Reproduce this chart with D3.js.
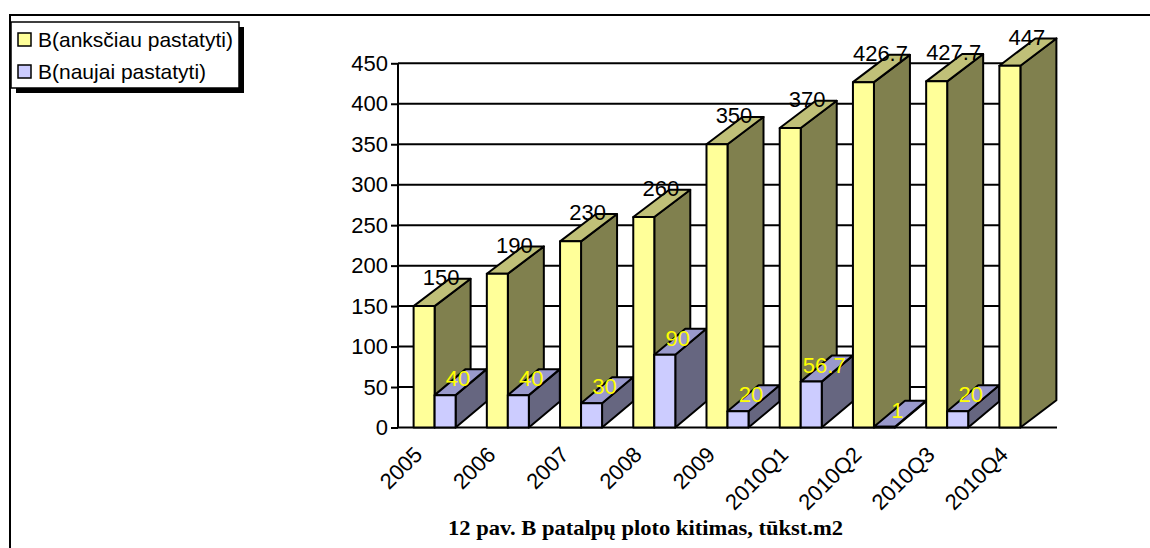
<!DOCTYPE html>
<html>
<head>
<meta charset="utf-8">
<script src="https://cdn.jsdelivr.net/npm/d3@7/dist/d3.min.js"></script>
<style>
  html, body { margin: 0; padding: 0; background: #fff; }
  svg { display: block; }
  .sans { font-family: "Liberation Sans", Arial, sans-serif; }
  .serif { font-family: "Liberation Serif", "Times New Roman", serif; }
</style>
</head>
<body>
<svg id="chart" width="1150" height="548"></svg>
<script>
// Categories (years / quarters)
const categories = ["2005", "2006", "2007", "2008", "2009", "2010Q1", "2010Q2", "2010Q3", "2010Q4"];
// Series names
const seriesNames = ["B(anksčiau pastatyti)", "B(naujai pastatyti)"];
// Series values, thousand m2
const existingValues = [150, 190, 230, 260, 350, 370, 426.7, 427.7, 447];
const newValues = [40, 40, 30, 90, 20, 56.7, 1, 20, null];
// Value axis ticks
const yTicks = [0, 50, 100, 150, 200, 250, 300, 350, 400, 450];
const captionText = "12 pav. B patalpų ploto kitimas, tūkst.m2";

const svg = d3.select("#chart");

// Face colours and extrusion offsets of each series
const styles = [
  { front: "#FFFF99", top: "#C0C078", side: "#80804E", dx: 36, dy: -27.3, label: "#000000" },
  { front: "#CCCCFF", top: "#9999CC", side: "#666680", dx: 31, dy: -26, label: "#FFFF00" }
];

const plot = { left: 398, right: 1057, top: 63.3, bottom: 427.5 };

const x = d3.scaleBand().domain(categories).range([plot.left, plot.right]).padding(0);
const sub = d3.scaleBand().domain([0, 1]).range([0, x.bandwidth()])
  .paddingInner(0).paddingOuter(0.743);
const y = d3.scaleLinear().domain([0, 450]).range([plot.bottom, plot.top]);

// Outer frame (top and left edges visible)
svg.append("path")
  .attr("d", `M10,549 L10,15 L1151,15`)
  .attr("fill", "none").attr("stroke", "#000").attr("stroke-width", 2);

// Gridlines
svg.append("g").selectAll("line").data(yTicks.filter(d => d > 0)).join("line")
  .attr("x1", plot.left).attr("x2", plot.right)
  .attr("y1", d => y(d)).attr("y2", d => y(d))
  .attr("stroke", "#000").attr("stroke-width", 2);

// Value axis
const yAxis = svg.append("g")
  .attr("transform", `translate(${plot.left},0)`)
  .call(d3.axisLeft(y).tickValues(yTicks).tickSize(7).tickPadding(3).tickFormat(d3.format("d")));
yAxis.select(".domain").attr("stroke-width", 2).attr("d", `M0,${plot.top}V${plot.bottom}`);
yAxis.selectAll(".tick line").attr("stroke-width", 2);
yAxis.selectAll(".tick text")
  .attr("class", "sans").attr("font-size", 22).attr("fill", "#000")
  .style("font-family", "'Liberation Sans', Arial, sans-serif");

// Baseline
svg.append("line")
  .attr("x1", plot.left).attr("x2", plot.right)
  .attr("y1", y(0)).attr("y2", y(0))
  .attr("stroke", "#000").attr("stroke-width", 2);

// 3D columns, drawn category by category so later columns overlap earlier ones
const bars = svg.append("g").attr("stroke", "#000").attr("stroke-width", 2).attr("stroke-linejoin", "round");
const seriesValues = [existingValues, newValues];

function pts(a) { return a.map(p => p.join(",")).join(" "); }

categories.forEach((cat, i) => {
  seriesValues.forEach((vals, s) => {
    const v = vals[i];
    if (v == null) return;
    const st = styles[s];
    const x0 = x(cat) + sub(s);
    const w = sub.bandwidth();
    const yt = y(v), yb = y(0);
    const g = bars.append("g");
    g.append("polygon").attr("fill", st.side).attr("points", pts([
      [x0 + w, yt], [x0 + w + st.dx, yt + st.dy], [x0 + w + st.dx, yb + st.dy], [x0 + w, yb]
    ]));
    g.append("polygon").attr("fill", st.top).attr("points", pts([
      [x0, yt], [x0 + w, yt], [x0 + w + st.dx, yt + st.dy], [x0 + st.dx, yt + st.dy]
    ]));
    g.append("rect").attr("fill", st.front)
      .attr("x", x0).attr("y", yt).attr("width", w).attr("height", yb - yt);
  });
});

// Value labels
const labels = svg.append("g").attr("class", "sans").attr("font-size", 22).attr("text-anchor", "middle");
categories.forEach((cat, i) => {
  seriesValues.forEach((vals, s) => {
    const v = vals[i];
    if (v == null) return;
    const st = styles[s];
    const cx = x(cat) + sub(s) + sub.bandwidth() / 2 + (s === 0 ? 17 : 13);
    const by = y(v) - (s === 0 ? 21 : 9);
    labels.append("text").attr("x", cx).attr("y", by).attr("fill", st.label).text(String(v));
  });
});

// Category labels
svg.append("g").attr("class", "sans").selectAll("text").data(categories).join("text")
  .attr("transform", d => `translate(${x(d) + x.bandwidth() / 2 - 11},456) rotate(-45)`)
  .attr("text-anchor", "end").attr("font-size", 22).attr("fill", "#000")
  .text(d => d);

// Legend
const legend = svg.append("g").attr("class", "sans");
legend.append("rect").attr("x", 16).attr("y", 27).attr("width", 228).attr("height", 66).attr("fill", "#000");
legend.append("rect").attr("x", 11).attr("y", 22).attr("width", 228).attr("height", 66)
  .attr("fill", "#fff").attr("stroke", "#000").attr("stroke-width", 1.5);
seriesNames.forEach((name, s) => {
  const yy = 33 + s * 32;
  legend.append("rect").attr("x", 18).attr("y", yy).attr("width", 13).attr("height", 13)
    .attr("fill", styles[s].front).attr("stroke", "#000").attr("stroke-width", 1.5);
  legend.append("text").attr("x", 38).attr("y", yy + 14).attr("font-size", 21).attr("fill", "#000").text(name);
});

// Caption
svg.append("text")
  .attr("class", "serif")
  .attr("x", 645.5).attr("y", 535).attr("text-anchor", "middle")
  .attr("font-weight", "bold").attr("font-size", 21).attr("fill", "#000")
  .attr("textLength", 395).attr("lengthAdjust", "spacingAndGlyphs")
  .text(captionText);
</script>
</body>
</html>
